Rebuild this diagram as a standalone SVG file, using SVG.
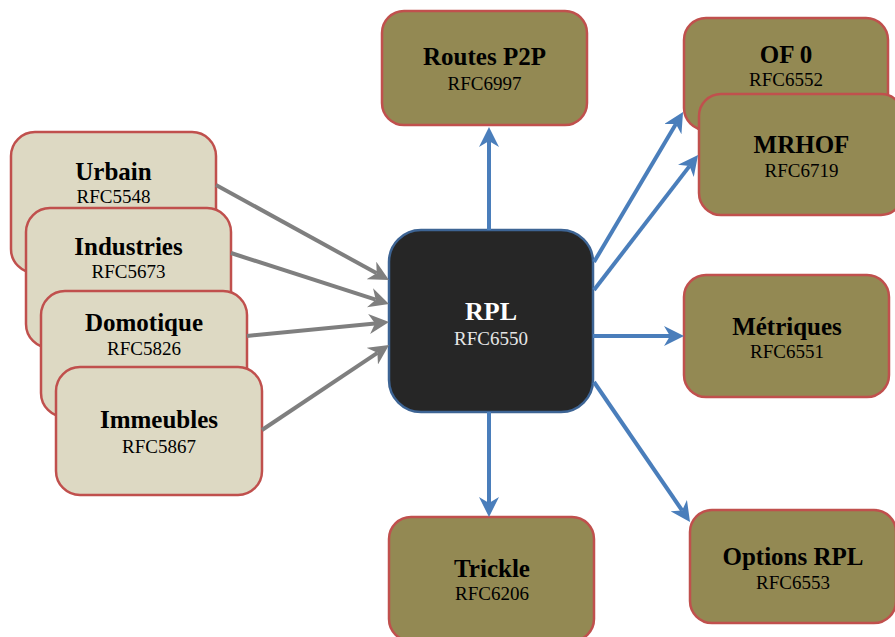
<svg xmlns="http://www.w3.org/2000/svg" width="895" height="637" viewBox="0 0 895 637">
<defs>
<style>
.beige rect{fill:#ddd9c3;stroke:#c0504d;stroke-width:2.5}
.olive rect{fill:#938953;stroke:#c0504d;stroke-width:2.5}
.t{font-family:"Liberation Serif",serif;font-weight:bold;font-size:25px;fill:#000;text-anchor:middle}
.s{font-family:"Liberation Serif",serif;font-size:19px;fill:#000;text-anchor:middle}
.blue{stroke:#4a7ebb;stroke-width:4;fill:none}
.gray{stroke:#7f7f7f;stroke-width:4;fill:none}
</style>
<marker id="hb" viewBox="0 0 20 20" refX="6" refY="10" markerWidth="20" markerHeight="20" markerUnits="userSpaceOnUse" orient="auto">
<path d="M0,0 L20,10 L0,20 L6,10 z" fill="#4a7ebb"/>
</marker>
<marker id="hg" viewBox="0 0 20 20" refX="6" refY="10" markerWidth="20" markerHeight="20" markerUnits="userSpaceOnUse" orient="auto">
<path d="M0,0 L20,10 L0,20 L6,10 z" fill="#7f7f7f"/>
</marker>
</defs>
<rect width="895" height="637" fill="#fff"/>
<g id="urbain" class="beige"><rect x="11" y="132" width="205" height="141" rx="24"/><text class="t" x="113.5" y="180">Urbain</text><text class="s" x="113.5" y="203">RFC5548</text></g>
<g id="industries" class="beige"><rect x="26" y="208" width="205" height="140" rx="24"/><text class="t" x="128.5" y="255">Industries</text><text class="s" x="128.5" y="278">RFC5673</text></g>
<g id="domotique" class="beige"><rect x="41" y="291" width="206" height="126" rx="24"/><text class="t" x="144" y="331">Domotique</text><text class="s" x="144" y="355">RFC5826</text></g>
<g id="immeubles" class="beige"><rect x="56" y="367" width="206" height="128" rx="24"/><text class="t" x="159" y="428">Immeubles</text><text class="s" x="159" y="453">RFC5867</text></g>
<g id="rpl"><rect x="389" y="230" width="204" height="182" rx="32" fill="#262626" stroke="#3d6494" stroke-width="2.5"/><text class="t" x="491" y="320" style="fill:#fff;font-size:26px">RPL</text><text class="s" x="491" y="345" style="fill:#e6e6e6">RFC6550</text></g>
<g id="routes" class="olive"><rect x="382" y="11" width="205" height="114" rx="22"/><text class="t" x="484.5" y="65">Routes P2P</text><text class="s" x="484.5" y="90">RFC6997</text></g>
<g id="of0" class="olive"><rect x="684" y="18" width="204" height="112" rx="22"/><text class="t" x="786" y="63">OF 0</text><text class="s" x="786" y="86">RFC6552</text></g>
<g id="mrhof" class="olive"><rect x="699" y="94" width="204" height="121" rx="22"/><text class="t" x="801.5" y="153">MRHOF</text><text class="s" x="801.5" y="177">RFC6719</text></g>
<g id="metriques" class="olive"><rect x="684" y="275" width="205" height="122" rx="22"/><text class="t" x="787" y="335">Métriques</text><text class="s" x="787" y="358">RFC6551</text></g>
<g id="options" class="olive"><rect x="690" y="510" width="206" height="113" rx="22"/><text class="t" x="793" y="565">Options RPL</text><text class="s" x="793" y="589">RFC6553</text></g>
<g id="trickle" class="olive"><rect x="389" y="517" width="205" height="124" rx="22"/><text class="t" x="492" y="577">Trickle</text><text class="s" x="492" y="600">RFC6206</text></g>
<g id="connectors">
<line class="blue" x1="489" y1="230" x2="489" y2="141" marker-end="url(#hb)"/>
<line class="blue" x1="489" y1="412" x2="489" y2="503" marker-end="url(#hb)"/>
<line class="blue" x1="593" y1="336" x2="670" y2="336" marker-end="url(#hb)"/>
<line class="blue" x1="594" y1="262" x2="675.9" y2="124" marker-end="url(#hb)"/>
<line class="blue" x1="594" y1="290" x2="689.5" y2="166.1" marker-end="url(#hb)"/>
<line class="blue" x1="594" y1="382" x2="682.1" y2="510.5" marker-end="url(#hb)"/>
<line class="gray" x1="216" y1="185" x2="376.7" y2="273.3" marker-end="url(#hg)"/>
<line class="gray" x1="231" y1="253" x2="375.7" y2="299.7" marker-end="url(#hg)"/>
<line class="gray" x1="247" y1="336" x2="375.1" y2="323.4" marker-end="url(#hg)"/>
<line class="gray" x1="262" y1="430" x2="377.4" y2="352.8" marker-end="url(#hg)"/>
</g>
</svg>
